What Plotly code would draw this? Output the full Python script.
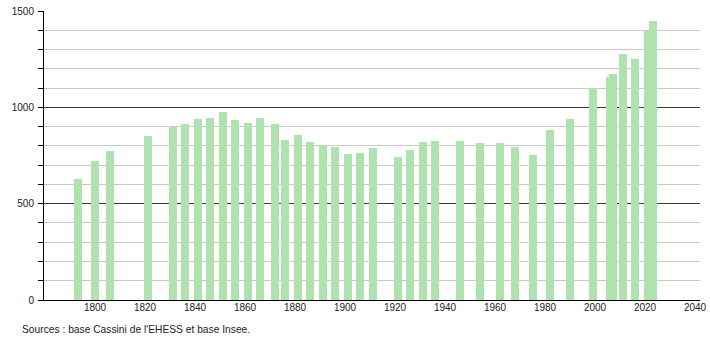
import plotly.graph_objects as go

years = [1793, 1800, 1806, 1821, 1831, 1836, 1841, 1846, 1851, 1856, 1861, 1866,
         1872, 1876, 1881, 1886, 1891, 1896, 1901, 1906, 1911, 1921, 1926, 1931,
         1936, 1946, 1954, 1962, 1968, 1975, 1982, 1990, 1999, 2006, 2007, 2011,
         2016, 2021, 2023]
population = [626, 721, 773, 851, 903, 915, 939, 946, 977, 935, 917, 946,
              915, 833, 856, 820, 806, 797, 759, 763, 789, 742, 778, 820,
              825, 825, 814, 814, 796, 752, 882, 938, 1102, 1156, 1173, 1277,
              1249, 1397, 1448]
x_ticks = [1800, 1820, 1840, 1860, 1880, 1900, 1920, 1940, 1960, 1980, 2000, 2020, 2040]
y_ticks = [0, 500, 1000, 1500]
source_text = "Sources : base Cassini de l'EHESS et base Insee."

font_family = "Liberation Sans, Arial, sans-serif"

fig = go.Figure()
fig.add_trace(go.Bar(
    x=years, y=population, width=3.2,
    marker=dict(color="#afe2af", line=dict(width=0)),
    hoverinfo="x+y",
))

fig.update_layout(
    width=710, height=340,
    margin=dict(l=44, r=10, t=11, b=40, autoexpand=False),
    paper_bgcolor="white", plot_bgcolor="white",
    showlegend=False,
    font=dict(family=font_family, size=10, color="#222222"),
    xaxis=dict(
        range=[1779.6, 2042], tickvals=x_ticks, ticktext=[str(v) for v in x_ticks],
        showgrid=False, zeroline=False, showline=True, linecolor="#000000", linewidth=1,
        ticks="", tickfont=dict(size=10, color="#222222"), automargin=False,
        ticklabelstandoff=-2,
    ),
    yaxis=dict(
        range=[0, 1500.6], tickvals=y_ticks, ticktext=[str(v) for v in y_ticks],
        showgrid=True, gridcolor="#3a3a3a", gridwidth=1, zeroline=False,
        showline=True, linecolor="#000000", linewidth=1,
        ticks="outside", ticklen=5, tickcolor="#000000",
        tickfont=dict(size=10, color="#222222"), automargin=False,
        ticklabelstandoff=2,
        minor=dict(dtick=100, tick0=0, showgrid=True, gridcolor="#c8c8c8", gridwidth=1,
                   ticks="outside", ticklen=5, tickcolor="#000000"),
    ),
    bargap=0,
)

fig.add_annotation(
    text=source_text, xref="paper", yref="paper",
    x=(20 - 44) / 656, y=-(329 - 300) / 289, xanchor="left", yanchor="middle",
    showarrow=False, font=dict(size=10.25, color="#222222", family=font_family),
)

fig.write_html("out.html")
